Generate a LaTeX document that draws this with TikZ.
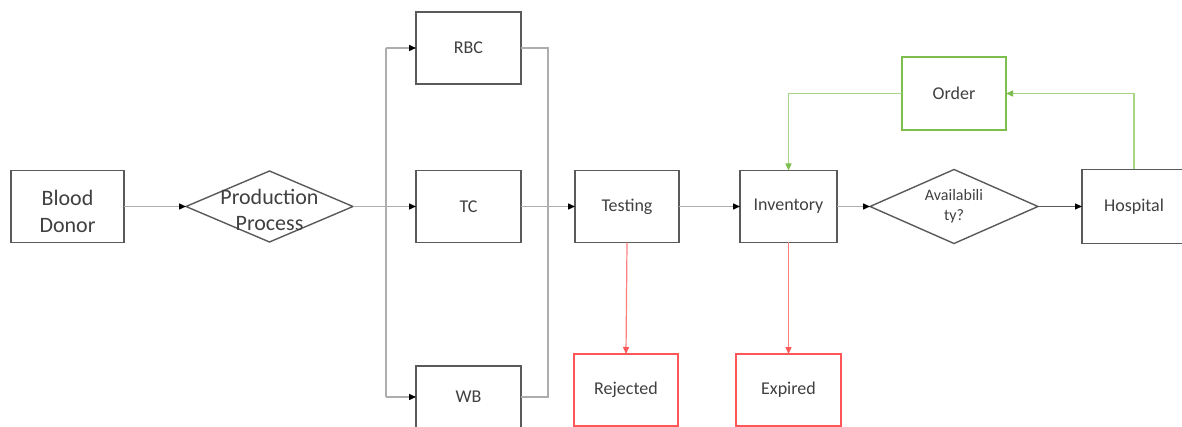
\documentclass[tikz,border=0pt]{standalone}
\usepackage{fontspec}
\setmainfont{Carlito}
\usetikzlibrary{arrows.meta,shapes.geometric}
\definecolor{boxgray}{HTML}{5A5A5A}
\definecolor{linegray}{HTML}{ADADAD}
\definecolor{txtgray}{HTML}{404040}
\definecolor{rejred}{HTML}{FF5757}
\definecolor{rejline}{HTML}{FF7F7F}
\definecolor{ordgreen}{HTML}{7DBE4E}
\definecolor{ordline}{HTML}{A6D585}

\begin{document}
\begin{tikzpicture}[x=1pt,y=-1pt,
  box/.style={draw=boxgray,line width=1.6pt,rectangle,inner sep=0pt,outer sep=0pt,
    text=txtgray,font=\fontsize{18}{20}\selectfont,align=center},
  bigtext/.style={text=txtgray,font=\fontsize{22}{26}\selectfont,align=center},
  redbox/.style={box,draw=rejred},
  greenbox/.style={box,draw=ordgreen},
  decision/.style={draw=boxgray,line width=1.4pt,diamond,inner sep=0pt,outer sep=0pt},
  plain/.style={draw=linegray,line width=1.4pt},
  flow/.style={plain,-{Triangle[length=7pt,width=6pt,color=black]}},
  darkflow/.style={draw=boxgray,line width=1pt,-{Triangle[length=7pt,width=6pt,color=black]}},
  rflow/.style={draw=rejline,line width=1.2pt,-{Triangle[length=7pt,width=6pt,color=rejred]}},
  gflow/.style={draw=ordline,line width=1.3pt,-{Triangle[length=7pt,width=6pt,color=ordgreen]}},
]
\clip (0,0) rectangle (1182,427);
\fill[white] (0,0) rectangle (1182,427);

% process boxes
\node[box,minimum width=113pt,minimum height=72pt,
  label={[bigtext,yshift=-5pt]center:Blood\\[1pt]Donor}] (donor) at (67.5,206.5) {};
\node[decision,minimum width=167pt,minimum height=71pt,
  label={[bigtext,yshift=-3pt]center:Production\\Process}]
  (pp) at (269.5,206.5) {};
\node[box,minimum width=105pt,minimum height=72pt] (rbc) at (468.5,48) {RBC};
\node[box,minimum width=105pt,minimum height=72pt] (tc) at (468.5,206.5) {TC};
\node[box,minimum width=105pt,minimum height=62pt] (wb) at (468.5,397) {WB};
\node[box,minimum width=104pt,minimum height=72pt] (test) at (627,206.5) {Testing};
\node[box,minimum width=97pt,minimum height=72pt] (inv) at (788.5,206.5) {Inventory};
\node[decision,minimum width=168pt,minimum height=74pt,
  label={[text=txtgray,font=\fontsize{16}{20}\selectfont,align=center]center:Availabili\\ty?}]
  (avail) at (954,206.5) {};
\node[box,minimum width=104pt,minimum height=74pt] (hosp) at (1134,206.5) {Hospital};
\node[greenbox,minimum width=104pt,minimum height=73pt] (order) at (954,93.5) {Order};
\node[redbox,minimum width=104pt,minimum height=72pt] (rej) at (626,390) {Rejected};
\node[redbox,minimum width=105pt,minimum height=72pt] (exp) at (788.5,390) {Expired};

% split into the three components
\coordinate (split) at (386,206.5);
\coordinate (merge) at (548,206.5);
\draw[flow] (donor.east) -- (pp.west);
\draw[plain] (pp.east) -- (split);
\draw[plain] (split |- rbc) -- (split |- wb);
\draw[flow] (split |- rbc) -- (rbc.west);
\draw[flow] (split) -- (tc.west);
\draw[flow] (split |- wb) -- (wb.west);

% merge back into testing
\draw[plain] (rbc.east) -| (merge);
\draw[plain] (wb.east) -| (merge);
\draw[flow] (tc.east) -- (test.west);
\draw[flow] (test.east) -- (inv.west);
\draw[flow] (inv.east) -- (avail.west);
\draw[darkflow] (avail.east) -- (hosp.west);

% ordering loop
\draw[gflow] (hosp.north) |- (order.east);
\draw[gflow] (order.west) -| (inv.north);

% discarded units
\draw[rflow] (test.south) -- (rej.north);
\draw[rflow] (inv.south) -- (exp.north);
\end{tikzpicture}
\end{document}
